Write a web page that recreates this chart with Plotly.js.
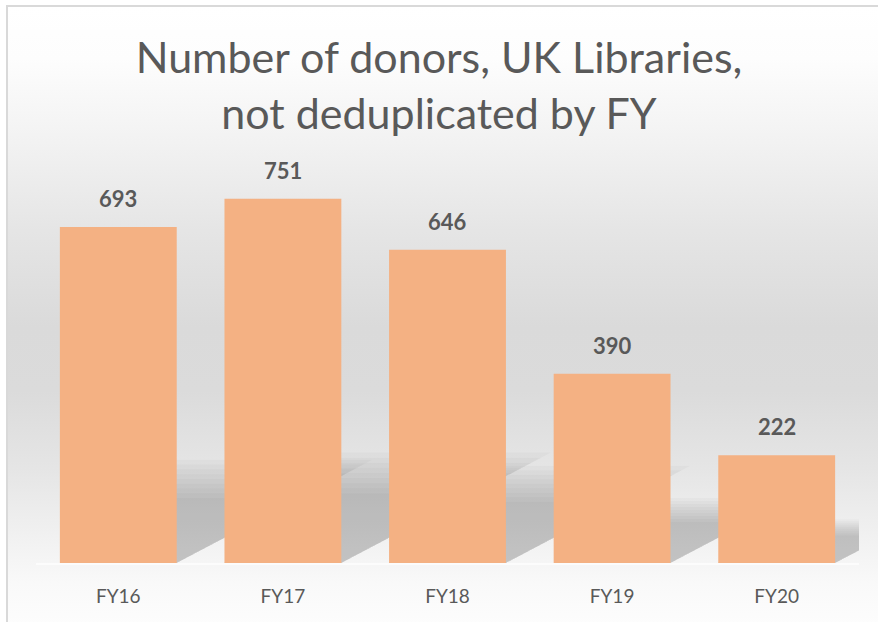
<!DOCTYPE html>
<html>
<head>
<meta charset="utf-8">
<script src="https://cdn.plot.ly/plotly-3.0.1.min.js"></script>
<style>
  html, body { margin: 0; padding: 0; background: #ffffff; }
  #wrap { position: relative; width: 878px; height: 622px; overflow: hidden; background: #ffffff; }
  #bg { position: absolute; left: 6px; top: 5px; width: 900px; height: 640px;
        border-left: 2px solid #d9d9d9; border-top: 2px solid #d9d9d9;
        background: linear-gradient(to bottom, #ffffff 0%, #fdfdfd 8%, #f3f3f3 20%, #e5e5e5 35%, #dadada 50%, #dbdbdb 60%, #e5e5e5 72%, #f0f0f0 82%, #f9f9f9 90%, #ffffff 100%); }
  #chart { position: absolute; left: 0; top: 0; width: 878px; height: 622px; }
</style>
</head>
<body>
<div id="wrap">
  <div id="bg"></div>
  <div id="chart"></div>
</div>
<script>
const categories = ["FY16", "FY17", "FY18", "FY19", "FY20"];
const donors = [693, 751, 646, 390, 222];

const barColor = "#F4B183";
const textColor = "#595959";
const barWidth = 0.71;
const font = "Lato, 'Open Sans', sans-serif";

// decorative soft perspective shadows derived from the data values
const shapes = [];
const nLayers = 9;
donors.forEach((v, i) => {
  const x0 = i - barWidth / 2, x1 = i + barWidth / 2;
  const baseH = 0.2 * v + 25;        // data units
  for (let k = 0; k < nLayers; k++) {
    const grow = 1.3 - k * 0.06;
    const h = baseH * grow;
    const dx = (1.9 * h * 0.4847) / 164.7; // category units
    const path = `M ${x0} 0 L ${x1} 0 L ${x1 + dx} ${h} L ${x0 + 0.3 * dx} ${h} Z`;
    shapes.push({type: "path", xref: "x", yref: "y", path: path,
      fillcolor: "rgba(0,0,0,0.024)", line: {width: 0}, layer: "below"});
  }
});

const annotations = categories.map((c, i) => ({
  x: c, y: donors[i], xref: "x", yref: "y",
  text: "<b>" + donors[i] + "</b>", showarrow: false,
  yanchor: "bottom", yshift: 13,
  font: {family: font, size: 22, color: textColor}
}));

const trace = {
  type: "bar", x: categories, y: donors,
  marker: {color: barColor, line: {width: 0}},
  width: barWidth, hoverinfo: "skip"
};

const layout = {
  width: 878, height: 622,
  margin: {l: 36, r: 18.5, t: 175, b: 59},
  paper_bgcolor: "rgba(0,0,0,0)", plot_bgcolor: "rgba(0,0,0,0)",
  title: {
    text: "Number of donors, UK Libraries,<br>not deduplicated by FY",
    font: {family: font, size: 43, color: textColor},
    x: 0.5, xanchor: "center", xref: "container",
    y: 0.883, yanchor: "top", yref: "container"
  },
  xaxis: {
    type: "category", range: [-0.5, 4.5], autorange: false,
    showgrid: false, zeroline: false,
    showline: true, linecolor: "rgba(255,255,255,0.7)", linewidth: 2,
    ticks: "", ticklabelstandoff: 15,
    tickfont: {family: font, size: 19, color: textColor}
  },
  yaxis: {
    range: [0, 800], autorange: false, visible: false, showgrid: false, zeroline: false
  },
  shapes: shapes,
  annotations: annotations,
  showlegend: false
};

Plotly.newPlot("chart", [trace], layout, {displayModeBar: false, staticPlot: true});
</script>
</body>
</html>
